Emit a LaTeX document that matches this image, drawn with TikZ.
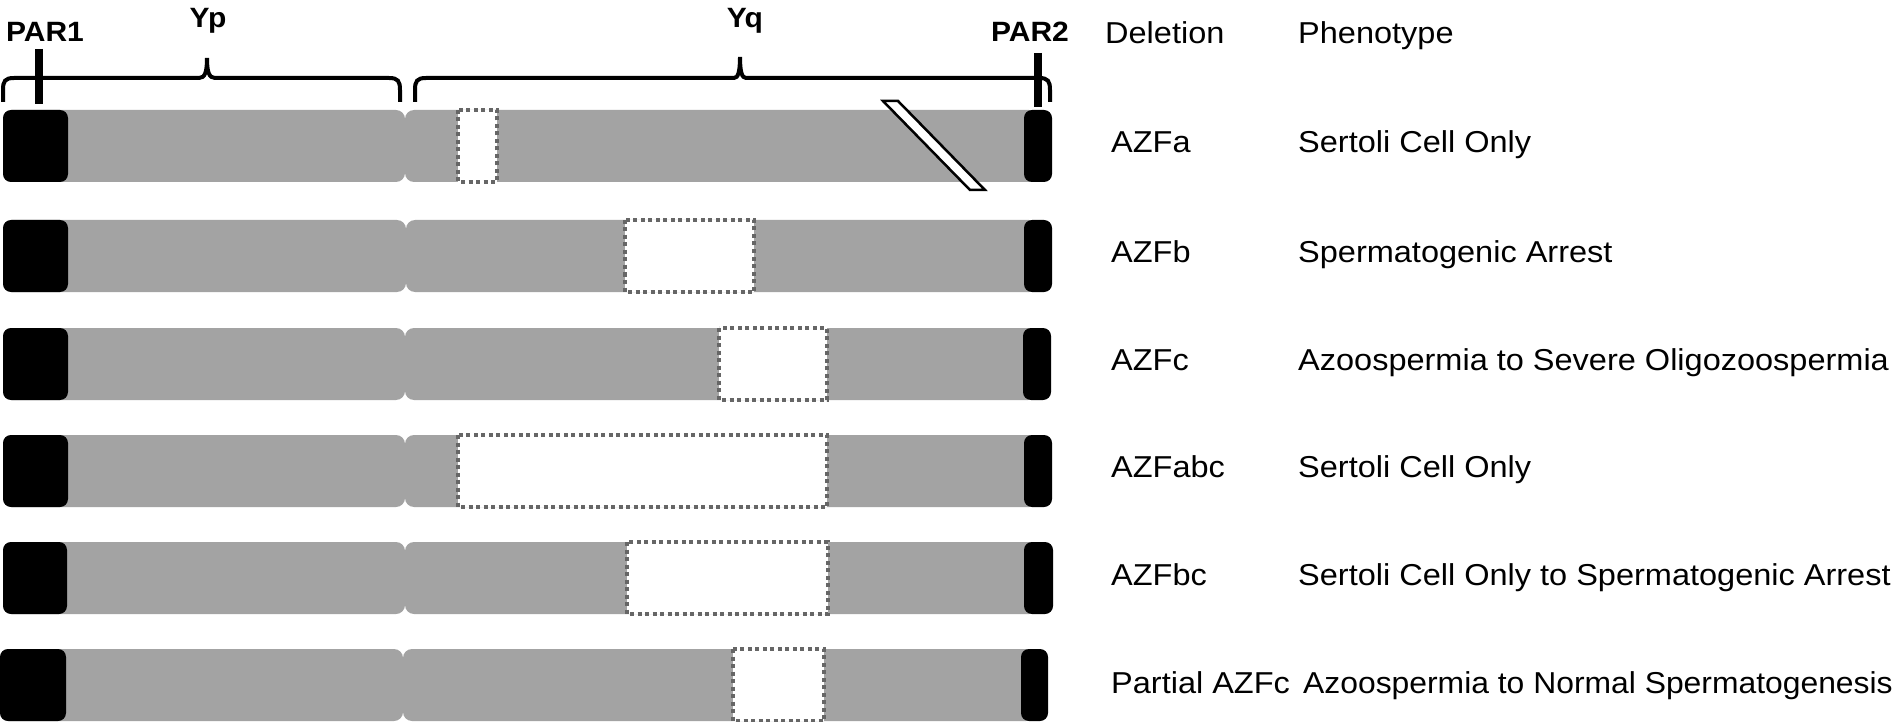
\documentclass[tikz,border=0pt]{standalone}
\usepackage{fontspec}
\setmainfont{Liberation Sans}
\definecolor{chrom}{RGB}{163,163,163}
\definecolor{dotc}{RGB}{102,102,102}
% #1 top, #2 PAR1 left, #3 PAR1 right, #4 centromere, #5 PAR2 left, #6 PAR2 right, #7 del left, #8 del right
\newcommand\chromrow[8]{%
  \fill[greyseg] (#2,#1) rectangle (#4,#1+72);
  \fill[greyseg] (#4,#1) rectangle (#5+14,#1+72);
  \filldraw[delbox] (#7,#1) rectangle (#8,#1+72);
  \fill[parblock] (#2,#1) rectangle (#3,#1+72);
  \fill[parblock] (#5,#1) rectangle (#6,#1+72);
}
\newcommand\sqz[1]{\scalebox{1}[0.93]{#1}}
\begin{document}
\begin{tikzpicture}[x=1pt,y=-1pt,
  lab/.style={inner sep=0pt, font=\fontsize{32.5}{38}\selectfont, anchor=base west},
  blab/.style={inner sep=0pt, font=\fontsize{30}{35}\selectfont\bfseries, anchor=base},
  bracepath/.style={line width=4pt},
  greyseg/.style={fill=chrom, rounded corners=9pt},
  parblock/.style={fill=black, rounded corners=8pt},
  delbox/.style={draw=dotc, fill=white, line width=3.5pt, dash pattern=on 4pt off 3.5pt},
  tickline/.style={line width=8pt}]
\useasboundingbox (0,0) rectangle (1904,722);

% chromosomes
\chromrow{110}{3}{68}{405}{1024}{1052}{458}{497}
\chromrow{220}{3}{68}{406}{1024}{1052}{625}{754}
\chromrow{328}{3}{68}{405}{1023}{1051}{719}{827}
\chromrow{435}{3}{68}{405}{1024}{1052}{458}{827}
\chromrow{542}{3}{67}{405}{1024}{1053}{627}{828}
\chromrow{649}{0}{66}{403}{1021}{1048}{733}{824}

% break mark on first chromosome
\draw[line width=2.5pt, fill=white] (883,101) -- (898,101) -- (985,190) -- (970,190) -- cycle;

% braces
\draw[bracepath] (3,102) -- (3,90) .. controls (3,81) and (5,78) .. (14,78)
  -- (199,78) .. controls (205,78) and (207,72) .. (207,58)
  .. controls (207,72) and (209,78) .. (215,78)
  -- (389,78) .. controls (398,78) and (400,81) .. (400,90) -- (400,102);
\draw[bracepath] (415,102) -- (415,90) .. controls (415,81) and (417,78) .. (426,78)
  -- (734,78) .. controls (738,78) and (740,72) .. (740,57)
  .. controls (740,72) and (742,78) .. (746,78)
  -- (1039,78) .. controls (1048,78) and (1050,81) .. (1050,90) -- (1050,102);

% PAR ticks
\draw[tickline] (39,49) -- (39,104);
\draw[tickline] (1038,53) -- (1038,107);

% bold labels
\node[blab] (par1) at (45,42) {\sqz{PAR1}};
\node[blab] (yp) at (208,28) {\sqz{Yp}};
\node[blab] (yq) at (745,28) {\sqz{Yq}};
\node[blab] (par2) at (1030,42) {\sqz{PAR2}};

% table
\node[lab] (hdel) at (1105,44) {\sqz{Deletion}};
\node[lab] (hphe) at (1298,44) {\sqz{Phenotype}};

\node[lab] (d1) at (1111,153) {\sqz{AZFa}};
\node[lab] (p1) at (1298,153) {\sqz{Sertoli Cell Only}};
\node[lab] (d2) at (1111,262) {\sqz{AZFb}};
\node[lab] (p2) at (1298,262) {\sqz{Spermatogenic Arrest}};
\node[lab] (d3) at (1111,370) {\sqz{AZFc}};
\node[lab] (p3) at (1298,370) {\sqz{Azoospermia to Severe Oligozoospermia}};
\node[lab] (d4) at (1111,477) {\sqz{AZFabc}};
\node[lab] (p4) at (1298,477) {\sqz{Sertoli Cell Only}};
\node[lab] (d5) at (1111,585) {\sqz{AZFbc}};
\node[lab] (p5) at (1298,585) {\sqz{Sertoli Cell Only to Spermatogenic Arrest}};
\node[lab] (d6) at (1111,693) {\sqz{Partial AZFc}};
\node[lab] (p6) at (1303,693) {\scalebox{0.98}[0.93]{Azoospermia to Normal Spermatogenesis}};
\end{tikzpicture}
\end{document}
